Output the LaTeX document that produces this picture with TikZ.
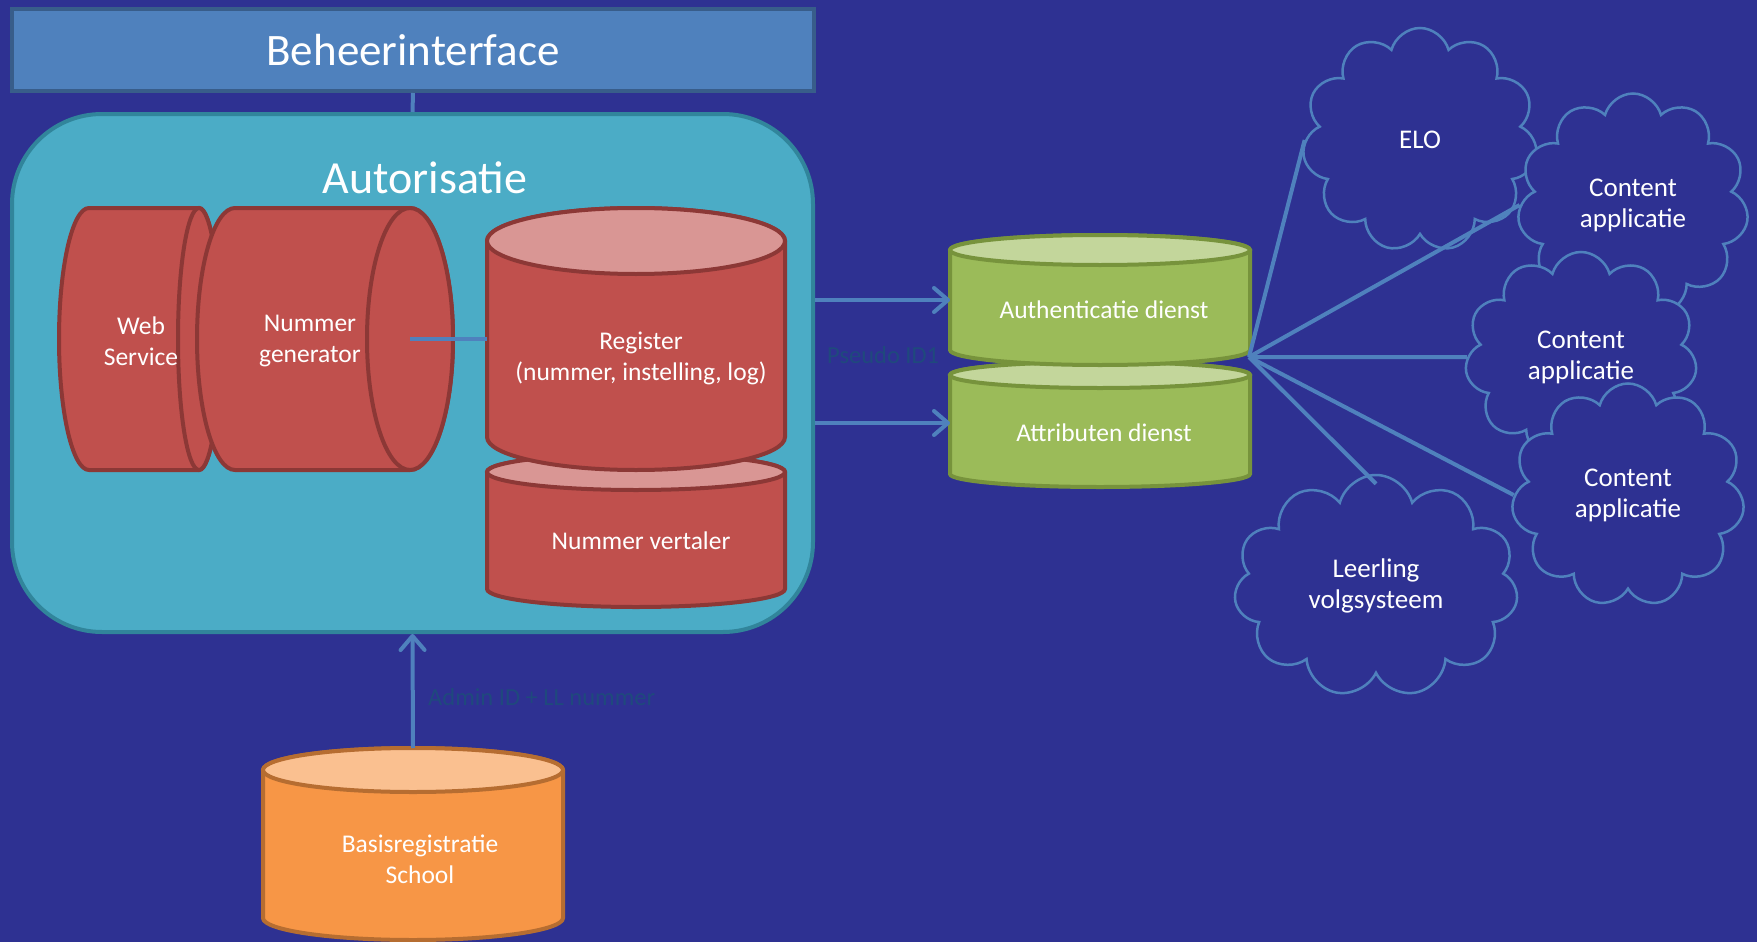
\documentclass[tikz,border=0pt]{standalone}
\usepackage{fontspec}
\setmainfont{Carlito}
\usetikzlibrary{shapes.symbols,arrows.meta,calc}
\definecolor{bg}{RGB}{46,49,146}
\definecolor{linec}{RGB}{79,129,189}
\definecolor{behfill}{RGB}{79,129,189}
\definecolor{behline}{RGB}{56,93,138}
\definecolor{autofill}{RGB}{75,172,198}
\definecolor{autoline}{RGB}{49,133,155}
\definecolor{redfill}{RGB}{192,80,77}
\definecolor{redline}{RGB}{140,56,54}
\definecolor{redtop}{RGB}{217,150,148}
\definecolor{grnfill}{RGB}{155,187,89}
\definecolor{grnline}{RGB}{119,147,60}
\definecolor{grntop}{RGB}{195,214,155}
\definecolor{orfill}{RGB}{247,150,70}
\definecolor{orline}{RGB}{182,109,49}
\definecolor{ortop}{RGB}{250,192,144}
\definecolor{labc}{RGB}{31,73,125}
\newcommand\DrawVCyl[8]{%
  \pgfmathsetmacro\vcx{(#1+#2)/2}%
  \pgfmathsetmacro\vrx{(#2-#1)/2}%
  \draw[line width=4pt,fill=#6,draw=#7] (#1,#3) -- (#1,#4)
    arc[start angle=180,end angle=0,x radius=\vrx,y radius=#5] -- (#2,#3)
    arc[start angle=0,end angle=-180,x radius=\vrx,y radius=#5] -- cycle;
  \draw[line width=4pt,fill=#8,draw=#7] (\vcx,#3) ellipse[x radius=\vrx,y radius=#5];
}
\newcommand\DrawHCyl[6]{%
  \pgfmathsetmacro\hmid{(#5+#6)/2}%
  \pgfmathsetmacro\hhh{(#6-#5)/2}%
  \draw[line width=4pt,fill=redfill,draw=redline] (#1,#5) -- (#3,#5)
    arc[start angle=-90,end angle=90,x radius=#4,y radius=\hhh] -- (#1,#6)
    arc[start angle=90,end angle=270,x radius=#2,y radius=\hhh] -- cycle;
  \draw[line width=4pt,fill=redfill,draw=redline] (#3,\hmid) ellipse[x radius=#4,y radius=\hhh];
}
\newcommand\cyltxt{\fontsize{25.5}{31}\selectfont}
\newcommand\cloudtxt{\fontsize{27}{31}\selectfont}
\begin{document}
\begin{tikzpicture}[x=1pt,y=-1pt,
  anchorbox/.style={inner sep=0pt,outer sep=0pt,draw=none},
  wtext/.style={text=white,align=center,font=\cyltxt,inner sep=0pt},
  conn/.style={draw=linec,line width=4pt},
  arr/.style={conn,-{Straight Barb[length=14pt,width=24pt,round]}},
  lab/.style={text=labc,font=\fontsize{24.5}{28}\selectfont,inner sep=0pt},
  cloudbox/.style={cloud,cloud puffs=11,cloud ignores aspect,draw=linec,fill=bg,line width=2.5pt,text=white,align=center,font=\cloudtxt,inner sep=0pt}]
\useasboundingbox (0,0) rectangle (1757,942);
\fill[bg] (0,0) rectangle (1757,942);

% Beheerinterface
\node[draw=behline,fill=behfill,line width=4pt,minimum width=802pt,minimum height=82pt,text=white,font=\fontsize{45}{50}\selectfont] (beheer) at (413,50) {Beheerinterface};

% Autorisatie
\node[draw=autoline,fill=autofill,line width=4pt,rounded corners=90pt,minimum width=801pt,minimum height=518pt] (autor) at (412.5,373) {};
\node[text=white,font=\fontsize{46}{50}\selectfont,inner sep=0pt] (autortitle) at (425,178) {Autorisatie};
\draw[conn] (beheer.south) -- (autor.north);

% Web Service and Nummer generator
\DrawHCyl{89}{30}{199}{21}{208}{470}
\DrawHCyl{235}{38}{410}{43}{208}{470}
\node[wtext] (websvc) at (141,341) {Web\\Service};
\node[wtext] (numgen) at (310,341) {Nummer\\generator};
\coordinate (numgenend) at (410,339);

% Nummer vertaler and Register
\DrawVCyl{487}{785}{472}{589}{18}{redfill}{redline}{redtop}
\DrawVCyl{487}{785}{241}{437}{33}{redfill}{redline}{redtop}
\node[anchorbox,minimum width=298pt,minimum height=262pt] (reg) at (636,339) {};
\node[wtext] (regtxt) at (641,358) {Register\\(nummer, instelling, log)};
\node[wtext] (nvtxt) at (641,541) {Nummer vertaler};
\draw[conn] (numgenend) -- (reg.west);

% Green cylinders
\DrawVCyl{950}{1250}{375}{474}{13}{grnfill}{grnline}{grntop}
\DrawVCyl{950}{1250}{250}{350}{15}{grnfill}{grnline}{grntop}
\node[anchorbox,minimum width=300pt,minimum height=130pt] (auth) at (1100,300) {};
\node[anchorbox,minimum width=300pt,minimum height=126pt] (attr) at (1100,423) {};
\node[wtext] (authtxt) at (1104,310) {Authenticatie dienst};
\node[wtext] (attrtxt) at (1104,433) {Attributen dienst};
\coordinate (hub) at (1249,357);

\draw[arr] (autor.east |- auth.west) -- (auth.west);
\draw[arr] (autor.east |- attr.west) -- (attr.west);
\node[lab,anchor=base west] (pseudo) at (827,363) {Pseudo ID1};

% Basisregistratie School
\DrawVCyl{263}{563}{770}{918}{22}{orfill}{orline}{ortop}
\node[anchorbox,minimum width=300pt,minimum height=192pt] (basis) at (413,844) {};
\node[wtext] (basistxt) at (420,859) {Basisregistratie\\School};
\draw[arr] (basis.north) -- (autor.south);
\node[lab,anchor=base west] (admin) at (428,705) {Admin ID + LL nummer};

% Clouds
\node[cloudbox,minimum width=235pt,minimum height=224pt] (elo) at (1420,140) {ELO};
\node[cloudbox,minimum width=231pt,minimum height=223pt] (ca) at (1633,205) {Content\\applicatie};
\node[cloudbox,minimum width=232pt,minimum height=210pt] (cb) at (1581,357) {Content\\applicatie};
\node[cloudbox,minimum width=233pt,minimum height=223pt] (cc) at (1628,495) {Content\\applicatie};
\node[cloudbox,minimum width=284pt,minimum height=222pt] (ll) at (1376,586) {Leerling\\volgsysteem};

\draw[conn] (hub) -- (elo.west);
\draw[conn] (hub) -- (ca.west);
\draw[conn] (hub) -- (cb.west);
\draw[conn] (hub) -- (cc.west);
\draw[conn] (hub) -- ($(ll.north)+(0,10)$);
\end{tikzpicture}
\end{document}
